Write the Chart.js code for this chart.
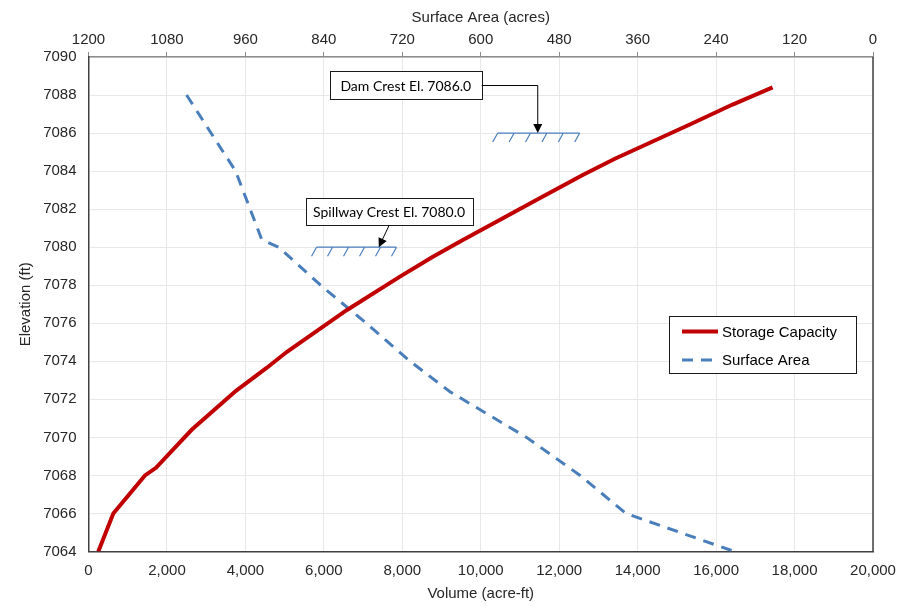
<!DOCTYPE html>
<html>
<head>
<meta charset="utf-8">
<script src="https://cdn.jsdelivr.net/npm/chart.js@4.4.1/dist/chart.umd.min.js"></script>
<style>
  html, body { margin: 0; padding: 0; background: #ffffff; }
  #wrap { width: 899px; height: 606px; }
</style>
</head>
<body>
<div id="wrap"><canvas id="c" width="899" height="606"></canvas></div>
<script>
// ---- Data ----
const storageVolume = [250, 632, 1440, 1720, 2630, 3760, 4540, 5060, 6590, 7940, 8780, 9520, 11430, 12600, 13420, 15330, 16420, 17440];
const storageElev   = [7064, 7066, 7068, 7068.4, 7070.4, 7072.45, 7073.65, 7074.5, 7076.7, 7078.45, 7079.5, 7080.35, 7082.5, 7083.8, 7084.65, 7086.45, 7087.5, 7088.4];
const surfaceArea   = [1050, 975, 935, 909, 845, 775, 708, 647, 530, 448, 378, 212];
const surfaceElev   = [7088, 7084, 7080.4, 7080, 7078, 7076, 7074, 7072.4, 7070, 7068, 7066, 7064];
const seriesNames   = ["Storage Capacity", "Surface Area"];
const axisTitles    = { volume: "Volume (acre-ft)", area: "Surface Area (acres)", elev: "Elevation (ft)" };
const crestLabels   = ["Dam Crest El. 7086.0", "Spillway Crest El. 7080.0"];
const crestElev     = [7086.0, 7080.0];
const crestVolFrom  = [10433, 5814];
const crestVolTo    = [12523, 7852];

// ---- Layout of annotations (data coordinates) ----
const annotLayout = [
  { box: [6153, 10025, 7089.24, 7087.76], elbow: true, from: [10025, 7088.5], to: [11453, 7086] },
  { box: [5534, 9789, 7082.59, 7081.15], elbow: false, from: [7664, 7081.15], to: [7401, 7080] }
];

const RED = '#c00000';
const BLUE = '#4a7ebb';
const FONT = "'Liberation Sans', Arial, sans-serif";
Chart.defaults.font.family = FONT;
Chart.defaults.font.size = 15;
Chart.defaults.color = '#262626';

const extras = {
  id: 'extras',
  afterDraw(chart) {
    const ctx = chart.ctx;
    const ca = chart.chartArea;
    const xs = chart.scales.x, ys = chart.scales.y;
    ctx.save();
    // right border
    ctx.strokeStyle = '#404040';
    ctx.lineWidth = 1.5;
    ctx.beginPath();
    ctx.moveTo(ca.right, ca.top);
    ctx.lineTo(ca.right, ca.bottom);
    ctx.stroke();

    // crest annotations
    crestLabels.forEach((label, i) => {
      const L = annotLayout[i];
      const y = ys.getPixelForValue(crestElev[i]);
      const x1 = xs.getPixelForValue(crestVolFrom[i]);
      const x2 = xs.getPixelForValue(crestVolTo[i]);
      // hatch line
      ctx.strokeStyle = BLUE;
      ctx.lineWidth = 1.2;
      ctx.beginPath();
      ctx.moveTo(x1, y); ctx.lineTo(x2, y);
      const step = (x2 - x1) / 5;
      for (let k = 0; k < 6; k++) {
        const tx = x1 + k * step;
        ctx.moveTo(tx, y); ctx.lineTo(tx - 5, y + 9);
      }
      ctx.stroke();
      // box
      const bl = xs.getPixelForValue(L.box[0]), br = xs.getPixelForValue(L.box[1]);
      const bt = ys.getPixelForValue(L.box[2]), bb = ys.getPixelForValue(L.box[3]);
      ctx.fillStyle = '#ffffff';
      ctx.fillRect(bl, bt, br - bl, bb - bt);
      ctx.strokeStyle = '#1a1a1a';
      ctx.lineWidth = 1;
      ctx.strokeRect(Math.round(bl) + 0.5, Math.round(bt) + 0.5, Math.round(br - bl), Math.round(bb - bt));
      ctx.fillStyle = '#000000';
      ctx.font = "14px Lato, 'Open Sans', sans-serif";
      ctx.textAlign = 'center';
      ctx.textBaseline = 'middle';
      ctx.fillText(label, (bl + br) / 2, (bt + bb) / 2 + 1);
      // connector + arrow
      const fx = xs.getPixelForValue(L.from[0]), fy = ys.getPixelForValue(L.from[1]);
      const tx = xs.getPixelForValue(L.to[0]), ty = ys.getPixelForValue(L.to[1]);
      ctx.strokeStyle = '#000000';
      ctx.lineWidth = 1;
      ctx.beginPath();
      let sx, sy;
      if (L.elbow) {
        ctx.moveTo(fx, fy); ctx.lineTo(tx, fy); ctx.lineTo(tx, ty - 7);
        sx = tx; sy = fy;
      } else {
        ctx.moveTo(fx, fy);
        const ang0 = Math.atan2(ty - fy, tx - fx);
        ctx.lineTo(tx - 7 * Math.cos(ang0), ty - 7 * Math.sin(ang0));
        sx = fx; sy = fy;
      }
      ctx.stroke();
      const ang = Math.atan2(ty - sy, tx - sx);
      ctx.fillStyle = '#000000';
      ctx.beginPath();
      ctx.moveTo(tx, ty);
      ctx.lineTo(tx - 9 * Math.cos(ang) + 4.5 * Math.sin(ang), ty - 9 * Math.sin(ang) - 4.5 * Math.cos(ang));
      ctx.lineTo(tx - 9 * Math.cos(ang) - 4.5 * Math.sin(ang), ty - 9 * Math.sin(ang) + 4.5 * Math.cos(ang));
      ctx.closePath();
      ctx.fill();
    });

    // legend
    const lx = 669.5, ly = 316.5, lw = 187, lh = 57;
    ctx.fillStyle = '#ffffff';
    ctx.fillRect(lx, ly, lw, lh);
    ctx.strokeStyle = '#1a1a1a';
    ctx.lineWidth = 1;
    ctx.strokeRect(lx, ly, lw, lh);
    chart.data.datasets.forEach((ds, i) => {
      const cy = ly + 15 + i * 28.5;
      ctx.strokeStyle = ds.borderColor;
      ctx.lineWidth = ds.borderWidth;
      ctx.setLineDash(ds.borderDash || []);
      ctx.beginPath();
      ctx.moveTo(682, cy); ctx.lineTo(718, cy);
      ctx.stroke();
      ctx.setLineDash([]);
      ctx.fillStyle = '#000000';
      ctx.font = '15px ' + FONT;
      ctx.textAlign = 'left';
      ctx.textBaseline = 'middle';
      ctx.fillText(ds.label, 722, cy + 1);
    });
    ctx.restore();
  }
};

new Chart(document.getElementById('c'), {
  type: 'line',
  data: {
    datasets: [
      {
        label: seriesNames[0],
        data: storageVolume.map((v, i) => ({ x: v, y: storageElev[i] })),
        xAxisID: 'x', yAxisID: 'y',
        borderColor: RED, borderWidth: 4, pointRadius: 0, tension: 0, fill: false
      },
      {
        label: seriesNames[1],
        data: surfaceArea.map((v, i) => ({ x: v, y: surfaceElev[i] })),
        xAxisID: 'x2', yAxisID: 'y',
        borderColor: BLUE, borderWidth: 3, borderDash: [11, 8], pointRadius: 0, tension: 0, fill: false
      }
    ]
  },
  options: {
    responsive: false,
    animation: false,
    devicePixelRatio: 1,
    layout: { padding: { left: 0, right: 26, top: 0, bottom: 0 } },
    plugins: { legend: { display: false }, tooltip: { enabled: false } },
    scales: {
      x: {
        type: 'linear', position: 'bottom', min: 0, max: 20000,
        ticks: { stepSize: 2000, padding: 10, callback: v => v.toLocaleString('en-US'), maxRotation: 0, color: '#262626' },
        grid: { color: '#e8e8e8', drawTicks: false },
        border: { color: '#404040', width: 1.5 },
        title: { display: true, text: axisTitles.volume, padding: { top: 0, bottom: 3 }, color: '#262626' },
        afterFit: s => { s.height = 54.5; s.paddingLeft = 0; s.paddingRight = 0; }
      },
      x2: {
        type: 'linear', position: 'top', min: 0, max: 1200, reverse: true,
        ticks: { stepSize: 120, padding: 3, callback: v => String(v), maxRotation: 0, color: '#262626' },
        grid: { drawOnChartArea: false, drawTicks: true, tickLength: 5, tickColor: '#8c8c8c' },
        border: { color: '#8c8c8c', width: 1.5 },
        title: { display: true, text: axisTitles.area, padding: { top: 9, bottom: 0 }, color: '#262626' },
        afterFit: s => { s.height = 57; s.paddingLeft = 0; s.paddingRight = 0; }
      },
      y: {
        type: 'linear', position: 'left', min: 7064, max: 7090,
        ticks: { stepSize: 2, padding: 12, callback: v => String(v), color: '#262626' },
        grid: { color: '#e8e8e8', drawTicks: false },
        border: { color: '#404040', width: 1.5 },
        title: { display: true, text: axisTitles.elev, padding: { top: 17, bottom: 0 }, color: '#262626' },
        afterFit: s => { s.width = 88.5; s.paddingTop = 0; s.paddingBottom = 0; }
      }
    }
  },
  plugins: [extras]
});
</script>
</body>
</html>
